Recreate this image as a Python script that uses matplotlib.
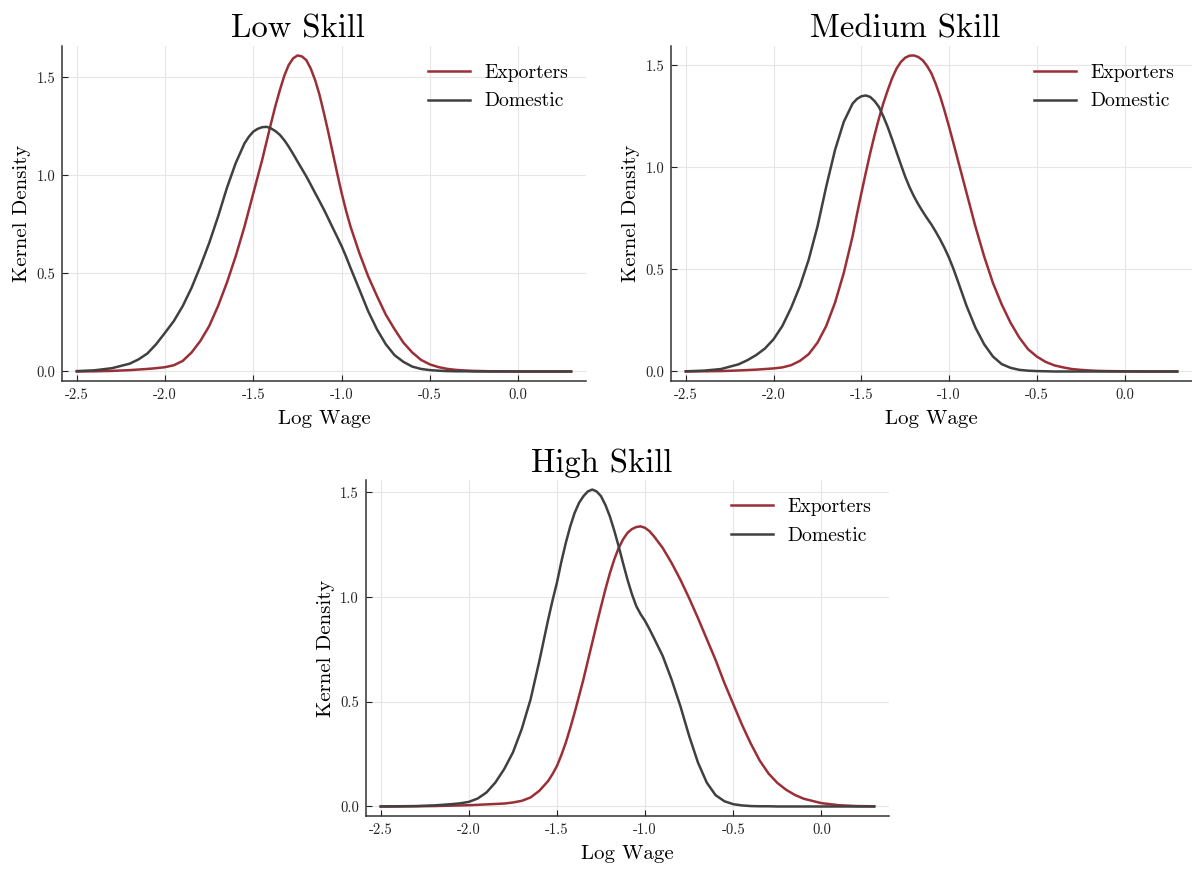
import matplotlib
matplotlib.use("Agg")
import matplotlib.pyplot as plt

plt.rcParams["font.family"] = ["cmr10", "DejaVu Serif"]
plt.rcParams["axes.unicode_minus"] = False
plt.rcParams["mathtext.fontset"] = "cm"

# log wage grid (finer around the peaks)
log_wage = [-2.5, -2.4, -2.3, -2.2, -2.15, -2.1, -2.05, -2.0, -1.95, -1.9,
            -1.85, -1.8, -1.75, -1.7, -1.65, -1.6, -1.55,
            -1.525, -1.5, -1.475, -1.45, -1.425, -1.4, -1.375, -1.35, -1.325,
            -1.3, -1.275, -1.25, -1.225, -1.2, -1.175, -1.15, -1.125, -1.1,
            -1.075, -1.05, -1.025, -1.0, -0.975, -0.95,
            -0.9, -0.85, -0.8, -0.75, -0.7, -0.65, -0.6, -0.55, -0.5, -0.45,
            -0.4, -0.35, -0.3, -0.25, -0.2, -0.15, -0.1, 0.0, 0.1, 0.2, 0.3]

low_exp = [0.0, 0.001, 0.003, 0.007, 0.010, 0.013, 0.017, 0.022, 0.032, 0.054,
           0.097, 0.156, 0.232, 0.334, 0.453, 0.588, 0.740,
           0.825, 0.910, 0.995, 1.080, 1.173, 1.266, 1.355, 1.435, 1.508,
           1.563, 1.597, 1.612, 1.607, 1.588, 1.545, 1.486, 1.410, 1.317,
           1.218, 1.114, 1.010, 0.910, 0.820, 0.740,
           0.605, 0.486, 0.385, 0.290, 0.215, 0.147, 0.097, 0.059, 0.036, 0.022,
           0.013, 0.008, 0.005, 0.003, 0.002, 0.001, 0.001, 0.0, 0.0, 0.0, 0.0]
low_dom = [0.002, 0.006, 0.017, 0.040, 0.062, 0.092, 0.140, 0.198, 0.258, 0.334,
           0.427, 0.537, 0.656, 0.790, 0.936, 1.063, 1.164,
           1.198, 1.224, 1.238, 1.246, 1.248, 1.240, 1.226, 1.207, 1.180,
           1.147, 1.110, 1.071, 1.033, 0.995, 0.953, 0.910, 0.868, 0.825,
           0.779, 0.732, 0.686, 0.639, 0.586, 0.529,
           0.419, 0.308, 0.215, 0.139, 0.083, 0.049, 0.025, 0.013, 0.007, 0.004,
           0.002, 0.001, 0.001, 0.0, 0.0, 0.0, 0.0, 0.0, 0.0, 0.0, 0.0]

med_exp = [0.0, 0.001, 0.002, 0.005, 0.007, 0.009, 0.012, 0.015, 0.020, 0.031,
           0.052, 0.085, 0.141, 0.223, 0.337, 0.483, 0.662,
           0.770, 0.873, 0.972, 1.068, 1.157, 1.239, 1.313, 1.377, 1.436,
           1.483, 1.516, 1.537, 1.547, 1.548, 1.540, 1.524, 1.496, 1.459,
           1.406, 1.345, 1.274, 1.198, 1.118, 1.036,
           0.873, 0.710, 0.563, 0.433, 0.328, 0.239, 0.166, 0.109, 0.073, 0.047,
           0.030, 0.020, 0.012, 0.008, 0.005, 0.003, 0.002, 0.001, 0.0, 0.0, 0.0]
med_dom = [0.001, 0.004, 0.012, 0.035, 0.055, 0.080, 0.112, 0.158, 0.223, 0.312,
           0.418, 0.548, 0.710, 0.906, 1.085, 1.223, 1.312,
           1.335, 1.348, 1.352, 1.345, 1.325, 1.296, 1.250, 1.198, 1.138,
           1.076, 1.014, 0.954, 0.902, 0.857, 0.818, 0.783, 0.750, 0.719,
           0.683, 0.645, 0.603, 0.556, 0.502, 0.442,
           0.320, 0.215, 0.133, 0.073, 0.036, 0.018, 0.008, 0.004, 0.002, 0.001,
           0.0, 0.0, 0.0, 0.0, 0.0, 0.0, 0.0, 0.0, 0.0, 0.0, 0.0]

high_exp = [0.0, 0.0, 0.001, 0.002, 0.003, 0.004, 0.005, 0.006, 0.008, 0.010,
            0.012, 0.014, 0.019, 0.027, 0.043, 0.075, 0.122,
            0.155, 0.194, 0.246, 0.305, 0.374, 0.448, 0.527, 0.607, 0.695,
            0.782, 0.870, 0.955, 1.038, 1.114, 1.180, 1.235, 1.276, 1.307,
            1.325, 1.335, 1.338, 1.331, 1.315, 1.291,
            1.235, 1.164, 1.084, 0.995, 0.900, 0.800, 0.700, 0.590, 0.490, 0.390,
            0.300, 0.220, 0.158, 0.113, 0.080, 0.055, 0.037, 0.016, 0.006, 0.002,
            0.001]
high_dom = [0.0, 0.001, 0.002, 0.005, 0.008, 0.011, 0.015, 0.022, 0.038, 0.067,
            0.114, 0.178, 0.258, 0.370, 0.511, 0.695, 0.893,
            0.985, 1.070, 1.170, 1.259, 1.337, 1.402, 1.450, 1.482, 1.505,
            1.514, 1.505, 1.482, 1.440, 1.386, 1.318, 1.243, 1.162, 1.084,
            1.015, 0.957, 0.918, 0.886, 0.847, 0.805,
            0.719, 0.607, 0.480, 0.337, 0.210, 0.114, 0.054, 0.025, 0.011, 0.005,
            0.002, 0.001, 0.001, 0.0, 0.0, 0.0, 0.0, 0.0, 0.0, 0.0, 0.0]

titles = ["Low Skill", "Medium Skill", "High Skill"]
series = [(low_exp, low_dom), (med_exp, med_dom), (high_exp, high_dom)]
xticks = [-2.5, -2.0, -1.5, -1.0, -0.5, 0.0]
yticks = [0.0, 0.5, 1.0, 1.5]

RED = "#9b2f38"
DARK = "#404040"

fig = plt.figure(figsize=(11.92, 8.69), dpi=100)
boxes = [
    [0.052, 0.5616, 0.4396, 0.3855],
    [0.563, 0.5616, 0.437, 0.3855],
    [0.307, 0.061, 0.4388, 0.3866],
]

for box, title, (exp, dom) in zip(boxes, titles, series):
    ax = fig.add_axes(box)
    ax.plot(log_wage, exp, color=RED, lw=1.8, label="Exporters",
            solid_joinstyle="round")
    ax.plot(log_wage, dom, color=DARK, lw=1.8, label="Domestic",
            solid_joinstyle="round")

    span = log_wage[-1] - log_wage[0]
    ax.set_xlim(log_wage[0] - 0.03 * span, log_wage[-1] + 0.03 * span)
    ymax = max(max(exp), max(dom))
    ax.set_ylim(-0.03 * ymax, 1.03 * ymax)

    ax.set_xticks(xticks)
    ax.set_xticklabels(["%.1f" % v for v in xticks])
    ax.set_yticks(yticks)
    ax.set_yticklabels(["%.1f" % v for v in yticks])
    ax.tick_params(direction="in", length=4, width=0.8, labelsize=10.5,
                   colors="#222222", pad=5)
    ax.grid(True, color="#e6e6e6", lw=0.8)
    for s in ["top", "right"]:
        ax.spines[s].set_visible(False)
    for s in ["left", "bottom"]:
        ax.spines[s].set_color("#333333")
        ax.spines[s].set_linewidth(1.1)

    # title is centred over the whole subplot (incl. y label), so nudge left
    ax.set_title(title, fontsize=23.5, pad=6, x=0.45)
    ax.set_xlabel("Log Wage", fontsize=15, labelpad=6)
    ax.set_ylabel("Kernel Density", fontsize=15)
    ax.legend(loc="upper right", frameon=False, fontsize=14.2,
              handlelength=2.1, handletextpad=0.75, labelspacing=0.55,
              borderaxespad=0.5)

fig.savefig("out.png", dpi=100)
